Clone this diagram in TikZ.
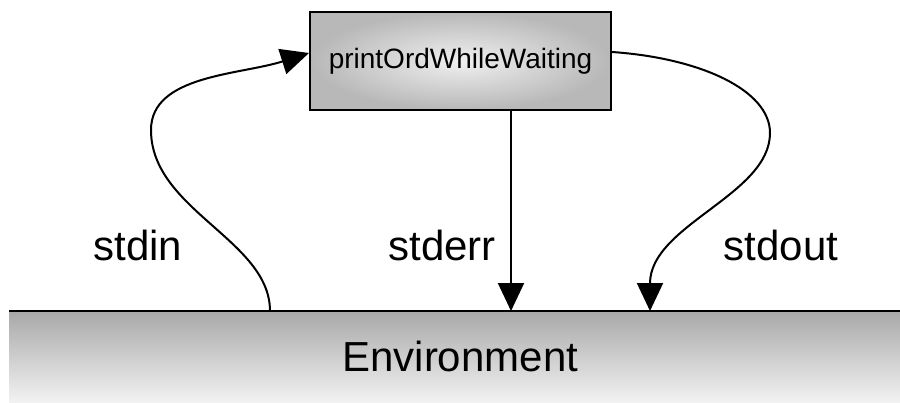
\documentclass[tikz,border=0pt]{standalone}
\usepackage{fontspec}
\setmainfont{Liberation Sans}
\usetikzlibrary{arrows.meta,calc}
\begin{document}
\begin{tikzpicture}[x=1pt,y=-1pt,
  conn/.style={line width=2pt, -{Triangle[length=28pt,width=26pt]}},
  lbl/.style={anchor=base, inner sep=0pt, font=\fontsize{42}{50}\selectfont},
  procbox/.style={draw, line width=2pt, inner color=black!6, outer color=black!28,
    minimum width=301pt, minimum height=98pt, inner sep=0pt,
    font=\fontsize{28}{34}\selectfont},
  envbox/.style={top color=black!34, bottom color=black!5, minimum width=902pt,
    minimum height=91pt, inner sep=0pt, anchor=north west,
    font=\fontsize{42}{50}\selectfont}]
\useasboundingbox (0,0) rectangle (900,402);
\node[envbox] (env) at (9,311) {Environment};
\draw[line width=2.5pt] (env.north west) -- (env.north east);
\node[procbox] (p) at (460.5,61) {printOrdWhileWaiting};
% stdin
\draw[conn] (270,0 |- env.north) .. controls (270,240) and (151,210) .. (151,130)
  .. controls (151,75) and (240,75) .. (p.west |- 0,53);
% stderr
\draw[conn] (511,0 |- p.south) -- (511,0 |- env.north);
% stdout
\draw[conn] (p.east |- 0,52) .. controls (700,58) and (770,90) .. (770,133)
  .. controls (770,195) and (650,225) .. (650,0 |- env.north);
\node[lbl] (lin) at (138,260) {stdin};
\node[lbl] (lerr) at (442,260) {stderr};
\node[lbl] (lout) at (781,260) {stdout};
\end{tikzpicture}
\end{document}
